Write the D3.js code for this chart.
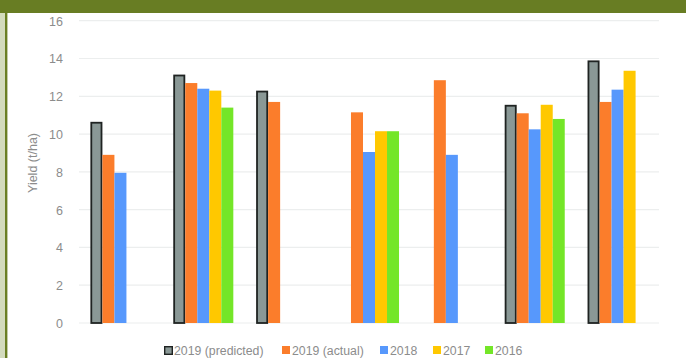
<!DOCTYPE html>
<html><head><meta charset="utf-8">
<script src="https://cdn.jsdelivr.net/npm/d3@7"></script>
<style>html,body{margin:0;padding:0;background:#fff;}svg{display:block;}</style>
</head><body>
<script>
const categories = ["A","B","C","D","E","F","G"];
const seriesNames = ["2019 (predicted)","2019 (actual)","2018","2017","2016"];
const predicted2019 = [10.6, 13.1, 12.25, null, null, 11.5, 13.85];
const actual2019    = [8.9, 12.7, 11.7, 11.15, 12.85, 11.1, 11.7];
const y2018         = [7.95, 12.4, null, 9.05, 8.9, 10.25, 12.35];
const y2017         = [null, 12.3, null, 10.15, null, 11.55, 13.35];
const y2016         = [null, 11.4, null, 10.15, null, 10.8, null];
const yTicks = [0,2,4,6,8,10,12,14,16];
const colors = ["#8a9896","#fb7d2b","#5798fc","#ffc800","#74e628"];

const series = [predicted2019, actual2019, y2018, y2017, y2016];
const W = 686, H = 358;
const svg = d3.select("body").append("svg").attr("width", W).attr("height", H);

// frame
svg.append("rect").attr("x",0).attr("y",0).attr("width",W).attr("height",H).attr("fill","#fff");
svg.append("rect").attr("x",0).attr("y",0).attr("width",5).attr("height",H).attr("fill","#d3dbbd");
svg.append("rect").attr("x",5).attr("y",0).attr("width",2.4).attr("height",H).attr("fill","#6a7f24");
svg.append("rect").attr("x",0).attr("y",0).attr("width",W).attr("height",13).attr("fill","#687d23");

const x0 = d3.scaleBand().domain(categories).range([79, 659]).paddingInner(0).paddingOuter(0);
const x1 = d3.scaleBand().domain(seriesNames).range([11.4, x0.bandwidth() - 11.4]);
const y = d3.scaleLinear().domain([0, 16]).range([323, 20.7]);

// gridlines
svg.append("g").selectAll("line").data(yTicks).join("line")
  .attr("x1", 79).attr("x2", 659)
  .attr("y1", d => y(d)).attr("y2", d => y(d))
  .attr("stroke", "#eceeee").attr("stroke-width", 1.2);

// y axis
const yAxis = d3.axisLeft(y).tickValues(yTicks).tickSize(0).tickPadding(0).tickFormat(d3.format("d"));
const ga = svg.append("g").attr("transform","translate(63,0)").call(yAxis);
ga.select(".domain").remove();
ga.selectAll("text").attr("fill","#8c8c8c").attr("font-family","Liberation Sans, Arial, sans-serif").attr("font-size", 12.5).attr("dy","0.35em");

svg.append("text").attr("transform","translate(37,163) rotate(-90)")
  .attr("text-anchor","middle").attr("fill","#8c8c8c")
  .attr("font-family","Liberation Sans, Arial, sans-serif").attr("font-size", 12.5)
  .text("Yield (t/ha)");

// bars
const data = [];
categories.forEach((c, i) => {
  series.forEach((s, j) => {
    if (s[i] != null) data.push({c, name: seriesNames[j], v: s[i], j});
  });
});
svg.append("g").selectAll("rect").data(data).join("rect")
  .attr("x", d => x0(d.c) + x1(d.name) + (d.j === 0 ? 0.9 : 0))
  .attr("width", d => x1.bandwidth() - (d.j === 0 ? 1.8 : 0))
  .attr("y", d => y(d.v))
  .attr("height", d => y(0) - y(d.v))
  .attr("fill", d => colors[d.j])
  .attr("stroke", d => d.j === 0 ? "#1f2322" : "none")
  .attr("stroke-width", d => d.j === 0 ? 1.8 : 0);

// legend
const legendX = [164, 282, 380, 433, 485];
const lg = svg.append("g");
seriesNames.forEach((n, j) => {
  const g = lg.append("g").attr("transform", `translate(${legendX[j]},346)`);
  g.append("rect").attr("x", j===0?0.7:0).attr("y", j===0?0.7:0)
    .attr("width", j===0?7.6:8).attr("height", j===0?7.6:8)
    .attr("fill", colors[j]).attr("stroke", j===0 ? "#1f2322" : "none").attr("stroke-width", j===0?1.4:0);
  g.append("text").attr("x", 10).attr("y", 9).attr("fill","#8c8c8c")
    .attr("font-family","Liberation Sans, Arial, sans-serif").attr("font-size", 12.3)
    .text(n);
});
</script>
</body></html>
